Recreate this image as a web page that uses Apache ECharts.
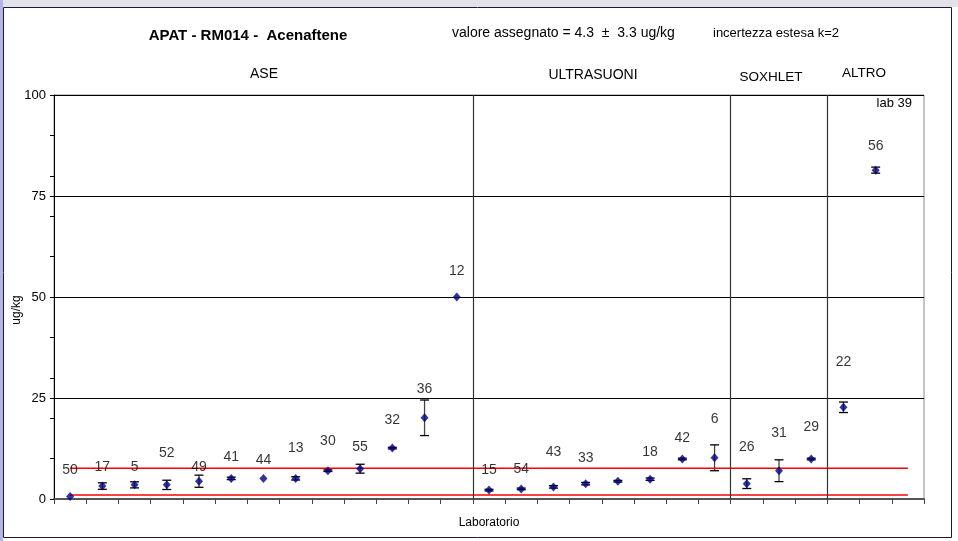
<!DOCTYPE html>
<html>
<head>
<meta charset="utf-8">
<script src="https://cdn.jsdelivr.net/npm/echarts@6/dist/echarts.min.js"></script>
<style>
html,body{margin:0;padding:0;background:#fff;}
#c{width:958px;height:541px;}
</style>
</head>
<body>
<div id="c"></div>
<script>
// ---- data ----
const labs    = ['50','17','5','52','49','41','44','13','30','55','32','36','12',
                 '15','54','43','33','','18','42','6',
                 '26','31','29',
                 '22','56',''];
const values  = [0.6,3.2,3.5,3.5,4.4,5.1,5.1,5.1,7.0,7.5,12.6,20.1,50.0,
                 2.2,2.5,3.0,3.8,4.4,4.9,9.9,10.2,
                 3.8,7.0,9.9,
                 22.7,81.4,null];
const errors  = [0,0.8,0.75,1.15,1.5,0.3,0,0.4,0.2,1.1,0.2,4.4,0,
                 0.2,0.2,0.3,0.3,0.2,0.3,0.2,3.2,
                 1.2,2.7,0.2,
                 1.3,0.75,null];
const labelY  = [7.2,7.8,7.8,11.3,7.8,10.3,9.7,12.5,14.4,12.8,19.4,27.2,56.5,
                 7.2,7.3,11.7,10.1,null,11.7,15.0,19.7,
                 12.8,16.3,17.9,
                 33.8,87.4,null];
const separators = [13, 21, 24];            // category boundaries between methods
const groupNames = ['ASE','ULTRASUONI','SOXHLET','ALTRO'];
const assigned = 4.3, expandedU = 3.3;      // valore assegnato ± U
const yMax = 100, yMajor = 25, yMinor = 10;

const n = labs.length;
const pts = [], errs = [], lbls = [];
for (let i = 0; i < n; i++) {
  if (values[i] != null) {
    pts.push([i + 0.5, values[i]]);
    errs.push([i + 0.5, values[i] - errors[i], values[i] + errors[i]]);
  }
  if (labelY[i] != null && labs[i] !== '') lbls.push([i + 0.5, labelY[i], labs[i]]);
}
const refHigh = +(assigned + expandedU).toFixed(2);
const refLow  = +(assigned - expandedU).toFixed(2);

const FONT = 'Liberation Sans, Arial, sans-serif';
const chart = echarts.init(document.getElementById('c'), null, {renderer:'canvas'});

function txt(x, y, s, size, align, bold) {
  return {type: 'text', x: x, y: y, silent: true,
    style: {text: s, font: (bold ? 'bold ' : '') + size + 'px ' + FONT, fill: '#000',
            textAlign: align, textVerticalAlign: 'middle'}};
}

chart.setOption({
  animation: false,
  backgroundColor: '#fff',
  grid: {left: 54, right: 34, top: 95, bottom: 42, show: true, borderColor: '#888', borderWidth: 1},
  xAxis: {
    type: 'value', min: 0, max: n, interval: 1,
    name: 'Laboratorio', nameLocation: 'middle', nameGap: 18,
    nameTextStyle: {fontFamily: FONT, fontSize: 12, color: '#000'},
    axisLine: {show: true, lineStyle: {color: '#555', width: 2}},
    axisTick: {show: true, length: 5, lineStyle: {color: '#444'}},
    axisLabel: {show: false},
    splitLine: {show: false}
  },
  yAxis: [{
    type: 'value', min: 0, max: yMax, interval: yMajor,
    axisLine: {show: true, onZero: false, lineStyle: {color: '#000', width: 1}},
    axisTick: {show: true, length: 4, lineStyle: {color: '#000'}},
    axisLabel: {fontFamily: FONT, fontSize: 13, color: '#000', margin: 8},
    splitLine: {show: true, lineStyle: {color: '#000', width: 1}}
  }, {
    type: 'value', min: 0, max: yMax, interval: yMinor, position: 'left',
    axisLine: {show: false},
    axisTick: {show: true, length: 4, lineStyle: {color: '#000'}},
    axisLabel: {show: false},
    splitLine: {show: false}
  }],
  graphic: [
    {type: 'rect', shape: {x: 0, y: 0, width: 958, height: 7}, style: {fill: '#e2e2ea'}, silent: true},
    {type: 'rect', shape: {x: 0, y: 0, width: 3, height: 541}, style: {fill: '#b4b4e6'}, silent: true},
    {type: 'rect', shape: {x: 3.5, y: 7.5, width: 948, height: 530}, style: {fill: 'none', stroke: '#1a1a3a', lineWidth: 1}, silent: true},
    txt(248, 36, 'APAT - RM014 -  Acenaftene', 15, 'center', true),
    txt(452, 33, 'valore assegnato = ' + assigned + '  \u00b1  ' + expandedU + ' ug/kg', 14, 'left'),
    txt(713, 33, 'incertezza estesa k=2', 13, 'left'),
    txt(264, 74, groupNames[0], 14, 'center'),
    txt(593, 75, groupNames[1], 14, 'center'),
    txt(771, 77, groupNames[2], 13.5, 'center'),
    txt(864, 73, groupNames[3], 13.5, 'center'),
    txt(912, 103, 'lab 39', 13, 'right'),
    {type: 'text', x: 17, y: 310, rotation: Math.PI / 2, silent: true,
     style: {text: 'ug/kg', font: '12px ' + FONT, fill: '#000', textAlign: 'center', textVerticalAlign: 'middle'}}
  ],
  series: [
    {
      type: 'line', name: 'sup', data: [[0.5, refHigh], [n - 0.5, refHigh]],
      symbol: 'none', lineStyle: {color: '#ff0000', width: 1.5}, silent: true, z: 2,
      markLine: {
        silent: true, symbol: 'none', label: {show: false},
        lineStyle: {color: '#333', width: 1.2, type: 'solid'},
        data: separators.map(s => ({xAxis: s}))
      }
    },
    {
      type: 'line', name: 'inf', data: [[0.5, refLow], [n - 0.5, refLow]],
      symbol: 'none', lineStyle: {color: '#ff0000', width: 1.5}, silent: true, z: 2
    },
    {
      type: 'custom', name: 'err', data: errs, z: 3,
      renderItem: function (params, api) {
        const x = api.value(0);
        const lo = api.coord([x, api.value(1)]);
        const hi = api.coord([x, api.value(2)]);
        const w = 4.5;
        if (Math.abs(hi[1] - lo[1]) < 0.5) return {type: 'group', children: []};
        return {
          type: 'group',
          children: [
            {type: 'line', shape: {x1: lo[0], y1: lo[1], x2: hi[0], y2: hi[1]}, style: {stroke: '#444', lineWidth: 1.3}},
            {type: 'line', shape: {x1: lo[0] - w, y1: lo[1], x2: lo[0] + w, y2: lo[1]}, style: {stroke: '#000', lineWidth: 1.3}},
            {type: 'line', shape: {x1: hi[0] - w, y1: hi[1], x2: hi[0] + w, y2: hi[1]}, style: {stroke: '#000', lineWidth: 1.3}}
          ]
        };
      }
    },
    {
      type: 'scatter', name: 'valori', data: pts, z: 4,
      symbol: 'diamond', symbolSize: [8, 9],
      itemStyle: {color: '#000080'}
    },
    {
      type: 'scatter', name: 'lab', data: lbls, z: 5,
      symbolSize: 0, silent: true,
      label: {
        show: true, position: 'inside', fontFamily: FONT, fontSize: 14, color: '#000',
        formatter: p => p.value[2]
      }
    }
  ]
});
</script>
</body>
</html>
